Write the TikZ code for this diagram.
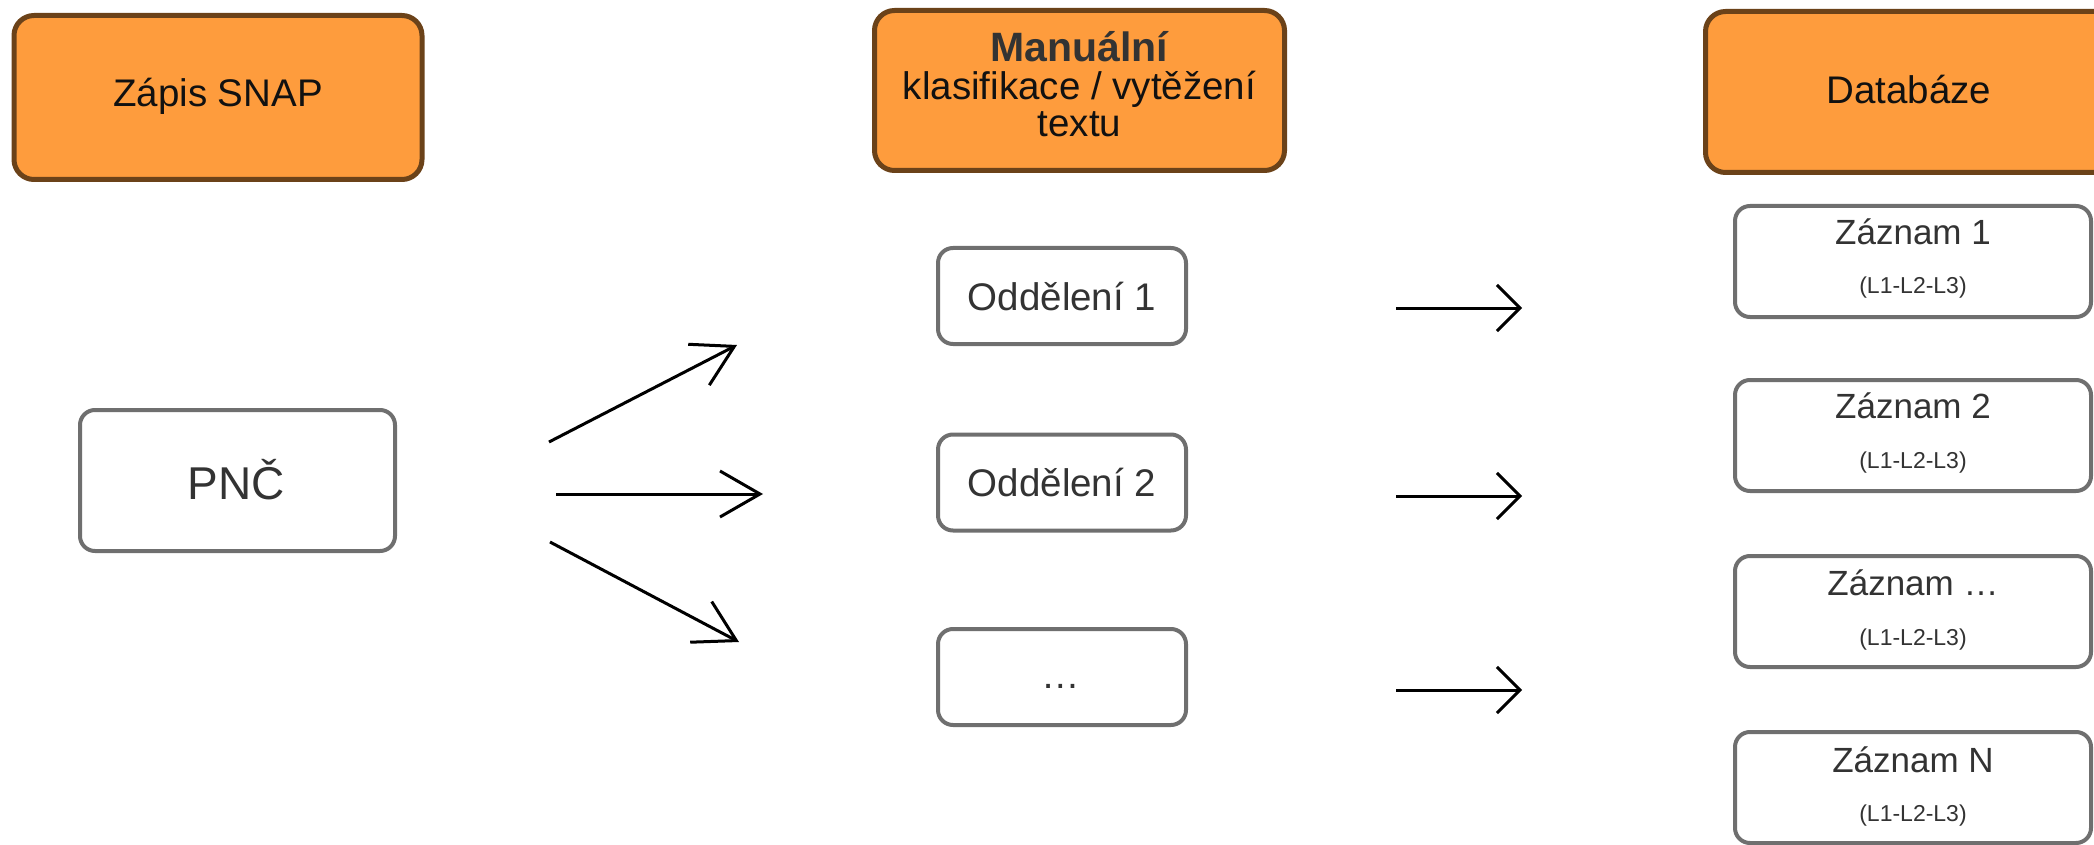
\documentclass[tikz,border=0pt]{standalone}
\usepackage{fontspec}
\setmainfont{Liberation Sans}
\usetikzlibrary{arrows.meta}
\definecolor{boxorange}{HTML}{FE9C3D}
\definecolor{boxbrown}{HTML}{6B4219}
\definecolor{boxgray}{HTML}{6F6F6F}
\definecolor{txtgray}{HTML}{333333}
\definecolor{txtdark}{HTML}{111111}
\begin{document}
\begin{tikzpicture}[x=1pt,y=-1pt,
  headbox/.style={draw=boxbrown, fill=boxorange, line width=5pt, rounded corners=20pt, inner sep=0pt},
  itembox/.style={draw=boxgray, fill=white, line width=4pt, rounded corners=15pt, inner sep=0pt},
  lbl/.style={inner sep=0pt, anchor=base},
  headtxt/.style={font=\fontsize{38.5}{46}\selectfont, text=txtdark},
  boldtxt/.style={font=\bfseries\fontsize{41}{46}\selectfont, text=txtgray},
  itemtxt/.style={font=\fontsize{38.5}{46}\selectfont, text=txtgray},
  bigtxt/.style={font=\fontsize{46}{52}\selectfont, text=txtgray},
  rectxt/.style={font=\fontsize{35}{42}\selectfont, text=txtgray},
  subtxt/.style={font=\fontsize{23}{28}\selectfont, text=txtgray},
  longarrow/.style={line width=3pt, -{Straight Barb[length=40pt,width=46pt]}},
  shortarrow/.style={line width=3pt, -{Straight Barb[length=23pt,width=46pt]}},
]
\useasboundingbox (0,0) rectangle (2094,845);

% header boxes
\node[headbox, minimum width=408pt, minimum height=164pt] (snap) at (218,97.5) {};
\node[lbl, headtxt] (snapT) at (218,107) {Zápis SNAP};

\node[headbox, minimum width=410pt, minimum height=160pt] (man) at (1079.5,90.5) {};
\node[lbl, boldtxt] (manT1) at (1079.5,62) {Manuální};
\node[lbl, headtxt] (manT2) at (1079.5,100) {klasifikace / vytěžení};
\node[lbl, headtxt] (manT3) at (1079.5,137) {textu};

\node[headbox, minimum width=409pt, minimum height=161pt] (db) at (1910,92) {};
\node[lbl, headtxt] (dbT) at (1909,104) {Databáze};

% PNC
\node[itembox, minimum width=315pt, minimum height=141pt] (pnc) at (237.5,480.5) {};
\node[lbl, bigtxt] (pncT) at (236.5,499) {PNČ};

% departments
\node[itembox, minimum width=248pt, minimum height=96pt] (od1) at (1062,296) {};
\node[lbl, itemtxt] (od1T) at (1062,310) {Oddělení 1};
\node[itembox, minimum width=248pt, minimum height=96pt] (od2) at (1062,482.5) {};
\node[lbl, itemtxt] (od2T) at (1062,496) {Oddělení 2};
\node[itembox, minimum width=248pt, minimum height=96pt] (od3) at (1062,677) {};
\node[lbl, itemtxt] (od3T) at (1061,688) {…};

% records
\node[itembox, minimum width=356pt, minimum height=111pt] (z1) at (1913,261.5) {};
\node[lbl, rectxt] (z1T) at (1913,245) {Záznam 1};
\node[lbl, subtxt] (z1S) at (1913,293) {(L1-L2-L3)};
\node[itembox, minimum width=356pt, minimum height=111pt] (z2) at (1913,435.5) {};
\node[lbl, rectxt] (z2T) at (1913,418) {Záznam 2};
\node[lbl, subtxt] (z2S) at (1913,468) {(L1-L2-L3)};
\node[itembox, minimum width=356pt, minimum height=111pt] (z3) at (1913,611.5) {};
\node[lbl, rectxt] (z3T) at (1913,595) {Záznam …};
\node[lbl, subtxt] (z3S) at (1913,645) {(L1-L2-L3)};
\node[itembox, minimum width=356pt, minimum height=111pt] (z4) at (1913,787.5) {};
\node[lbl, rectxt] (z4T) at (1913,772) {Záznam N};
\node[lbl, subtxt] (z4S) at (1913,821) {(L1-L2-L3)};

% arrows
\coordinate (a1s) at (549,442);
\coordinate (a1e) at (737,345);
\coordinate (a2s) at (556,494);
\coordinate (a2e) at (763,494);
\coordinate (a3s) at (550,542);
\coordinate (a3e) at (739,642);
\coordinate (r1s) at (1396,308);
\coordinate (r1e) at (1522,308);
\coordinate (r2s) at (1396,496);
\coordinate (r2e) at (1522,496);
\coordinate (r3s) at (1396,690);
\coordinate (r3e) at (1522,690);
\draw[longarrow] (a1s) -- (a1e);
\draw[longarrow] (a2s) -- (a2e);
\draw[longarrow] (a3s) -- (a3e);
\draw[shortarrow] (r1s) -- (r1e);
\draw[shortarrow] (r2s) -- (r2e);
\draw[shortarrow] (r3s) -- (r3e);
\end{tikzpicture}
\end{document}
